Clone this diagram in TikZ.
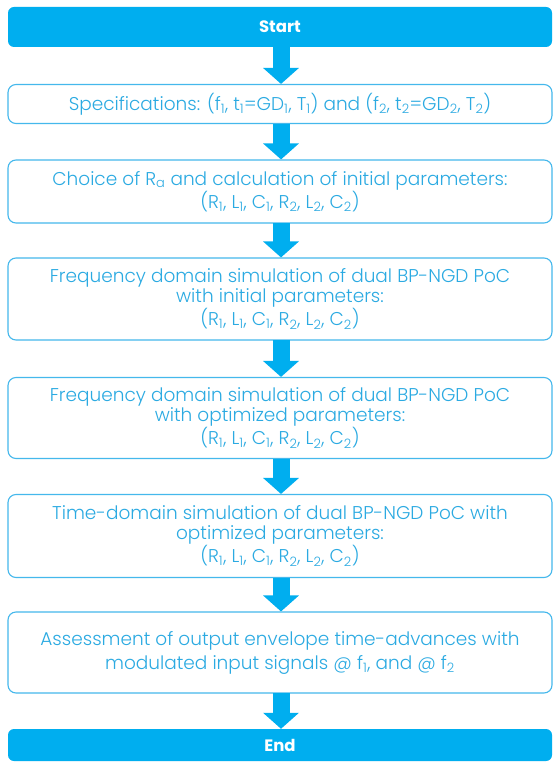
\documentclass[tikz,border=0pt]{standalone}
\usepackage{fontspec}
\setmainfont{Poppins}
\newfontfamily\lightfont{Poppins Light}
\usetikzlibrary{arrows.meta}
\definecolor{cyanfill}{HTML}{00AEEF}
\definecolor{cyantext}{HTML}{2BAAE2}
\definecolor{cyanline}{HTML}{45B8EC}
\newcommand{\mysub}[1]{\textsubscript{#1}}
\begin{document}
\begin{tikzpicture}[x=1pt,y=-1pt,
  endbox/.style={rectangle, rounded corners=6pt, fill=cyanfill, draw=none,
    minimum width=544pt, text=white, font=\fontsize{16.5}{18}\selectfont\bfseries, inner sep=0pt},
  procbox/.style={rectangle, rounded corners=8pt, draw=cyanline, line width=1.1pt, fill=white,
    minimum width=544pt, text=cyantext, align=center,
    font=\lightfont\fontsize{18.5}{19.5}\selectfont, inner sep=0pt},
  flow/.style={draw=cyanfill, line width=17pt, -{Triangle[width=35pt,length=16pt]}, shorten <=-0.5pt}
]
\useasboundingbox (0,0) rectangle (553,762);
\fill[white] (0,0) rectangle (553,762);

\node[endbox, minimum height=40pt] (start) at (280,27) {Start};
\node[procbox, minimum height=39pt] (b1) at (280,104)
  {Specifications: (f\mysub{1}, t\mysub{1}=GD\mysub{1}, T\mysub{1}) and (f\mysub{2}, t\mysub{2}=GD\mysub{2}, T\mysub{2})};
\node[procbox, minimum height=63pt] (b2) at (280,191.5)
  {Choice of R\mysub{a} and calculation of initial parameters:\\(R\mysub{1}, L\mysub{1}, C\mysub{1}, R\mysub{2}, L\mysub{2}, C\mysub{2})};
\node[procbox, minimum height=82pt] (b3) at (280,299)
  {Frequency domain simulation of dual BP-NGD PoC\\with initial parameters:\\(R\mysub{1}, L\mysub{1}, C\mysub{1}, R\mysub{2}, L\mysub{2}, C\mysub{2})};
\node[procbox, minimum height=81pt] (b4) at (280,418)
  {Frequency domain simulation of dual BP-NGD PoC\\with optimized parameters:\\(R\mysub{1}, L\mysub{1}, C\mysub{1}, R\mysub{2}, L\mysub{2}, C\mysub{2})};
\node[procbox, minimum height=83pt] (b5) at (280,536)
  {Time-domain simulation of dual BP-NGD PoC with\\optimized parameters:\\(R\mysub{1}, L\mysub{1}, C\mysub{1}, R\mysub{2}, L\mysub{2}, C\mysub{2})};
\node[procbox, minimum height=81pt, font=\lightfont\fontsize{18.5}{24}\selectfont] (b6) at (280,652.5)
  {Assessment of output envelope time-advances with\\modulated input signals @ f\mysub{1}, and @ f\mysub{2}};
\node[endbox, minimum height=32pt] (end) at (280,745) {End};

\draw[flow] ([xshift=1pt]start.south) -- ([xshift=1pt]b1.north);
\draw[flow] ([xshift=1pt]b1.south) -- ([xshift=1pt]b2.north);
\draw[flow] ([xshift=1pt]b2.south) -- ([xshift=1pt]b3.north);
\draw[flow] ([xshift=1pt]b3.south) -- ([xshift=1pt]b4.north);
\draw[flow] ([xshift=1pt]b4.south) -- ([xshift=1pt]b5.north);
\draw[flow] ([xshift=1pt]b5.south) -- ([xshift=1pt]b6.north);
\draw[flow] ([xshift=1pt]b6.south) -- ([xshift=1pt]end.north);
\end{tikzpicture}
\end{document}
